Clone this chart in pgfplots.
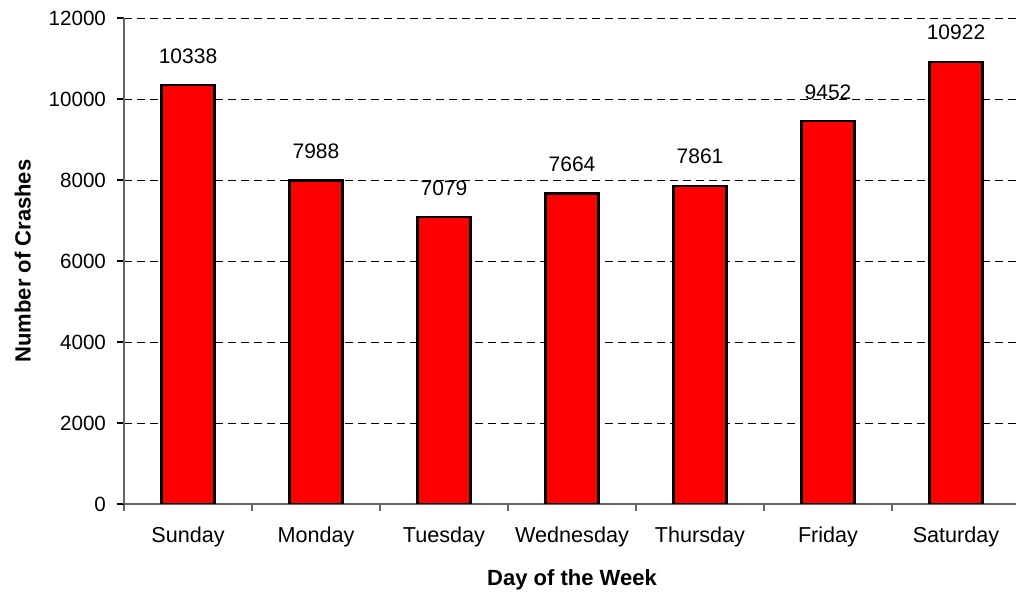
\documentclass[border=0pt]{standalone}
\usepackage{fontspec}
\setmainfont{Liberation Sans}
\usepackage{pgfplots}
\pgfplotsset{compat=1.18}
\definecolor{barred}{HTML}{FF0000}

\begin{document}
\begin{tikzpicture}
\begin{axis}[
  scale only axis,
  width=448pt, height=243pt,
  xmin=-0.5, xmax=6.5,
  ymin=0, ymax=12000,
  ytick={0,2000,...,12000},
  scaled y ticks=false,
  xtick={-0.5,0.5,...,6.5},
  xticklabels={},
  extra x ticks={0,...,6},
  extra x tick labels={Sunday,Monday,Tuesday,Wednesday,Thursday,Friday,Saturday},
  extra x tick style={major tick length=0pt, grid=none},
  axis x line=bottom, axis y line=left,
  axis line style={-, gray!80!black, line width=0.6pt},
  x tick style={gray!80!black, line width=0.6pt},
  y tick style={black, line width=0.6pt},
  tick align=outside,
  major tick length=3.5pt,
  ymajorgrids,
  grid style={black, line width=0.4pt, dash pattern=on 4pt off 2.5pt},
  tick label style={font=\fontsize{10.8}{12}\selectfont},
  yticklabel style={font=\fontsize{10.3}{12}\selectfont, xshift=-2pt},
  /pgf/number format/assume math mode=true,
  /pgf/number format/1000 sep={},
  xticklabel style={yshift=-8pt},
  xlabel={\textbf{Day of the Week}},
  ylabel={\textbf{Number of Crashes}},
  label style={font=\fontsize{11}{13}\selectfont},
  xlabel style={yshift=-1pt},
  ylabel style={yshift=2pt},
  ybar, bar width=26.5pt,
  nodes near coords,
  nodes near coords style={font=\fontsize{10.5}{12}\selectfont, text=black, yshift=7pt,
    /pgf/number format/fixed, /pgf/number format/1000 sep={}},
]
\addplot+[fill=barred, draw=black, line width=1.1pt] coordinates {
  (0,10338) (1,7988) (2,7079) (3,7664) (4,7861) (5,9452) (6,10922)};
\end{axis}
\pgfresetboundingbox
\path ([xshift=-62pt,yshift=-44pt]current axis.south west)
  rectangle ([xshift=-2pt,yshift=9pt]current axis.north east);
\end{tikzpicture}
\end{document}
